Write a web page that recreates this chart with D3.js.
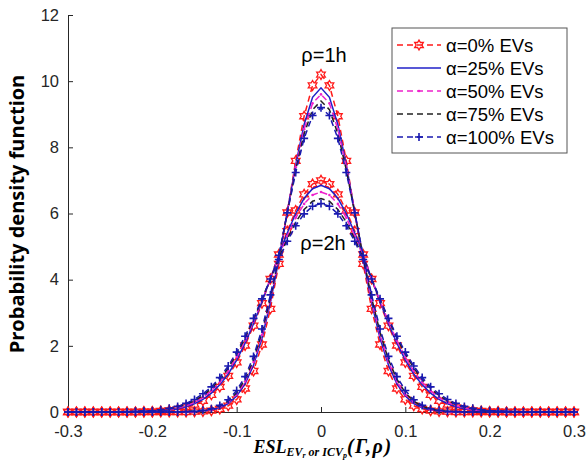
<!DOCTYPE html>
<html>
<head>
<meta charset="utf-8">
<script src="https://cdn.jsdelivr.net/npm/d3@7"></script>
<style>
  body { margin: 0; background: #fff; }
  svg { display: block; }
</style>
</head>
<body>
<div id="chart"></div>
<script>
'use strict';

// x positions (ESL)
const xs = [-0.30,-0.29,-0.28,-0.27,-0.26,-0.25,-0.24,-0.23,-0.22,-0.21,
            -0.20,-0.19,-0.18,-0.17,-0.16,-0.15,-0.14,-0.13,-0.12,-0.11,
            -0.10,-0.09,-0.08,-0.07,-0.06,-0.05,-0.04,-0.03,-0.02,-0.01,
             0.00, 0.01, 0.02, 0.03, 0.04, 0.05, 0.06, 0.07, 0.08, 0.09,
             0.10, 0.11, 0.12, 0.13, 0.14, 0.15, 0.16, 0.17, 0.18, 0.19,
             0.20, 0.21, 0.22, 0.23, 0.24, 0.25, 0.26, 0.27, 0.28, 0.29, 0.30];

// rho = 1h
const h1_a0   = [0,0,0,0,0,0,0,0,0,0,0,0,0,0,0,0.01,0.02,0.04,0.09,0.19,0.38,0.71,1.24,2.04,3.12,4.48,6.03,7.59,8.94,9.87,10.2,9.87,8.94,7.59,6.03,4.48,3.12,2.04,1.24,0.71,0.38,0.19,0.09,0.04,0.02,0.01,0,0,0,0,0,0,0,0,0,0,0,0,0,0,0];
const h1_a25  = [0,0,0,0,0,0,0,0,0,0,0,0,0,0,0,0.01,0.03,0.06,0.13,0.25,0.48,0.85,1.42,2.23,3.31,4.61,6.05,7.47,8.69,9.51,9.8,9.51,8.69,7.47,6.05,4.61,3.31,2.23,1.42,0.85,0.48,0.25,0.13,0.06,0.03,0.01,0,0,0,0,0,0,0,0,0,0,0,0,0,0,0];
const h1_a50  = [0,0,0,0,0,0,0,0,0,0,0,0,0,0,0,0.01,0.03,0.07,0.15,0.29,0.53,0.92,1.51,2.33,3.39,4.66,6.05,7.40,8.55,9.33,9.6,9.33,8.55,7.40,6.05,4.66,3.39,2.33,1.51,0.92,0.53,0.29,0.15,0.07,0.03,0.01,0,0,0,0,0,0,0,0,0,0,0,0,0,0,0];
const h1_a75  = [0,0,0,0,0,0,0,0,0,0,0,0,0,0,0.01,0.02,0.04,0.09,0.17,0.33,0.58,0.99,1.58,2.41,3.45,4.69,6.02,7.32,8.41,9.14,9.4,9.14,8.41,7.32,6.02,4.69,3.45,2.41,1.58,0.99,0.58,0.33,0.17,0.09,0.04,0.02,0.01,0,0,0,0,0,0,0,0,0,0,0,0,0,0];
const h1_a100 = [0,0,0,0,0,0,0,0,0,0,0,0,0,0,0.01,0.02,0.05,0.10,0.20,0.37,0.65,1.07,1.68,2.51,3.54,4.74,6.02,7.24,8.27,8.96,9.2,8.96,8.27,7.24,6.02,4.74,3.54,2.51,1.68,1.07,0.65,0.37,0.20,0.10,0.05,0.02,0.01,0,0,0,0,0,0,0,0,0,0,0,0,0,0];

// rho = 2h
const h2_a0   = [0,0,0,0,0,0,0,0,0,0.01,0.01,0.03,0.05,0.08,0.14,0.22,0.34,0.52,0.76,1.09,1.50,2.01,2.61,3.29,4.02,4.76,5.47,6.09,6.58,6.89,7.0,6.89,6.58,6.09,5.47,4.76,4.02,3.29,2.61,2.01,1.50,1.09,0.76,0.52,0.34,0.22,0.14,0.08,0.05,0.03,0.01,0.01,0,0,0,0,0,0,0,0,0];
const h2_a25  = [0,0,0,0,0,0,0,0,0,0.01,0.02,0.03,0.06,0.10,0.16,0.25,0.38,0.57,0.82,1.15,1.57,2.08,2.67,3.33,4.03,4.74,5.41,6.00,6.46,6.75,6.85,6.75,6.46,6.00,5.41,4.74,4.03,3.33,2.67,2.08,1.57,1.15,0.82,0.57,0.38,0.25,0.16,0.10,0.06,0.03,0.02,0.01,0,0,0,0,0,0,0,0,0];
const h2_a50  = [0,0,0,0,0,0,0,0,0.01,0.01,0.03,0.04,0.07,0.12,0.19,0.29,0.44,0.64,0.90,1.24,1.66,2.16,2.73,3.37,4.03,4.70,5.32,5.87,6.29,6.56,6.65,6.56,6.29,5.87,5.32,4.70,4.03,3.37,2.73,2.16,1.66,1.24,0.90,0.64,0.44,0.29,0.19,0.12,0.07,0.04,0.03,0.01,0.01,0,0,0,0,0,0,0,0];
const h2_a75  = [0,0,0,0,0,0,0,0,0.01,0.02,0.03,0.06,0.09,0.15,0.23,0.34,0.50,0.71,0.98,1.33,1.75,2.24,2.80,3.40,4.03,4.65,5.23,5.74,6.12,6.37,6.45,6.37,6.12,5.74,5.23,4.65,4.03,3.40,2.80,2.24,1.75,1.33,0.98,0.71,0.50,0.34,0.23,0.15,0.09,0.06,0.03,0.02,0.01,0,0,0,0,0,0,0,0];
const h2_a100 = [0,0,0,0,0,0,0,0.01,0.02,0.03,0.04,0.07,0.11,0.17,0.26,0.38,0.55,0.76,1.04,1.39,1.81,2.29,2.83,3.42,4.02,4.61,5.16,5.63,5.99,6.22,6.3,6.22,5.99,5.63,5.16,4.61,4.02,3.42,2.83,2.29,1.81,1.39,1.04,0.76,0.55,0.38,0.26,0.17,0.11,0.07,0.04,0.03,0.02,0.01,0,0,0,0,0,0,0];

const legendLabels = ['α=0% EVs', 'α=25% EVs', 'α=50% EVs', 'α=75% EVs', 'α=100% EVs'];
const xTicks = [-0.3, -0.2, -0.1, 0, 0.1, 0.2, 0.3];
const yTicks = [0, 2, 4, 6, 8, 10, 12];

const styles = [
  {color: '#ff1a1a', dash: '6,4', marker: 'hexagram'},
  {color: '#2020c8', dash: null,  marker: null},
  {color: '#ee22cc', dash: '6,4', marker: 'dot'},
  {color: '#222222', dash: '6,4', marker: null},
  {color: '#1a1ab0', dash: '6,4', marker: 'plus'}
];

const series = [
  [h1_a0, h2_a0],
  [h1_a25, h2_a25],
  [h1_a50, h2_a50],
  [h1_a75, h2_a75],
  [h1_a100, h2_a100]
];

const W = 587, H = 464;
const svg = d3.select('#chart').append('svg')
  .attr('width', W).attr('height', H)
  .style('font-family', '"Liberation Sans", Arial, sans-serif');

const x = d3.scaleLinear().domain([-0.3, 0.3]).range([68, 574]);
const y = d3.scaleLinear().domain([0, 12]).range([412, 15]);

const axisColor = '#262626';

const yAxis = svg.append('g')
  .attr('transform', `translate(${x(-0.3)},0)`)
  .call(d3.axisLeft(y).tickValues(yTicks).tickSize(-5).tickSizeOuter(0).tickPadding(9)
        .tickFormat(d3.format('d')));
const xAxis = svg.append('g')
  .attr('transform', `translate(0,${y(0)})`)
  .call(d3.axisBottom(x).tickValues(xTicks).tickSize(-5).tickSizeOuter(0).tickPadding(13)
        .tickFormat(d => d === 0 ? '0' : d.toFixed(1)));
[yAxis, xAxis].forEach(a => {
  a.select('.domain').attr('stroke', axisColor).attr('stroke-width', 1);
  a.selectAll('.tick line').attr('stroke', axisColor);
  a.selectAll('.tick text').attr('fill', axisColor)
    .style('font-size', '16.5px').style('font-family', '"Liberation Sans", Arial, sans-serif');
});

// marker shapes
const hexagram = function(r) {
  const pts = [];
  for (let i = 0; i < 12; i++) {
    const rr = i % 2 === 0 ? r : r / Math.sqrt(3);
    const a = -Math.PI / 2 + i * Math.PI / 6;
    pts.push([rr * Math.cos(a), rr * Math.sin(a)]);
  }
  return 'M' + pts.map(p => p[0].toFixed(2) + ',' + p[1].toFixed(2)).join('L') + 'Z';
};

const drawMarker = function(g, kind, color, cx, cy) {
  if (kind === 'hexagram') {
    g.append('path').attr('d', hexagram(5))
      .attr('transform', `translate(${cx},${cy})`)
      .attr('fill', 'none').attr('stroke', color).attr('stroke-width', 1.3);
  } else if (kind === 'plus') {
    g.append('path').attr('d', 'M-4,0H4M0,-4V4')
      .attr('transform', `translate(${cx},${cy})`)
      .attr('stroke', color).attr('stroke-width', 1.6);
  } else if (kind === 'dot') {
    g.append('circle').attr('cx', cx).attr('cy', cy).attr('r', 1.3).attr('fill', color);
  }
};

const line = d3.line().x((d, i) => x(xs[i])).y(d => y(d));

const plot = svg.append('g');
series.forEach((pair, s) => {
  const st = styles[s];
  const g = plot.append('g');
  pair.forEach(vals => {
    g.append('path')
      .attr('d', line(vals))
      .attr('fill', 'none')
      .attr('stroke', st.color)
      .attr('stroke-width', 1.5)
      .attr('stroke-dasharray', st.dash);
    if (st.marker) {
      vals.forEach((v, i) => drawMarker(g, st.marker, st.color, x(xs[i]), y(v)));
    }
  });
});

// curve labels
svg.append('text').attr('x', 324).attr('y', 62).attr('text-anchor', 'middle')
  .style('font-size', '20px').attr('fill', '#000').text('ρ=1h');
svg.append('text').attr('x', 323).attr('y', 250).attr('text-anchor', 'middle')
  .style('font-size', '20px').attr('fill', '#000').text('ρ=2h');

// legend
const lg = svg.append('g');
lg.append('rect').attr('x', 392).attr('y', 28).attr('width', 175).attr('height', 125)
  .attr('fill', '#fff').attr('stroke', '#555').attr('stroke-width', 1);
legendLabels.forEach((lab, i) => {
  const ly = 45 + i * 23;
  const st = styles[i];
  lg.append('line').attr('x1', 397).attr('x2', 441).attr('y1', ly).attr('y2', ly)
    .attr('stroke', st.color).attr('stroke-width', 1.5)
    .attr('stroke-dasharray', st.dash);
  if (st.marker) drawMarker(lg, st.marker, st.color, 419, ly);
  lg.append('text').attr('x', 446).attr('y', ly + 6.5)
    .style('font-size', '18.5px').attr('fill', '#000').text(lab);
});

// axis titles
svg.append('text')
  .attr('transform', 'translate(24,214) rotate(-90)')
  .attr('text-anchor', 'middle')
  .style('font-family', '"Open Sans", "Noto Sans", sans-serif')
  .style('font-weight', 'bold').style('font-size', '20px').attr('fill', '#000')
  .text('Probability density function');

const xt = svg.append('text')
  .attr('x', 323).attr('y', 453).attr('text-anchor', 'middle')
  .style('font-family', '"Liberation Serif", "DejaVu Serif", serif')
  .style('font-weight', 'bold').style('font-style', 'italic').attr('fill', '#000');
xt.append('tspan').style('font-size', '18px').text('ESL');
xt.append('tspan').style('font-size', '12px').attr('dy', 3).text('EV');
xt.append('tspan').style('font-size', '8px').attr('dy', 2).text('r');
xt.append('tspan').style('font-size', '12px').attr('dy', -2).text(' or ICV');
xt.append('tspan').style('font-size', '8px').attr('dy', 2).text('p');
xt.append('tspan').style('font-size', '20px').attr('dy', -5).attr('letter-spacing', 1.5).text('(Γ,ρ)');
</script>
</body>
</html>
